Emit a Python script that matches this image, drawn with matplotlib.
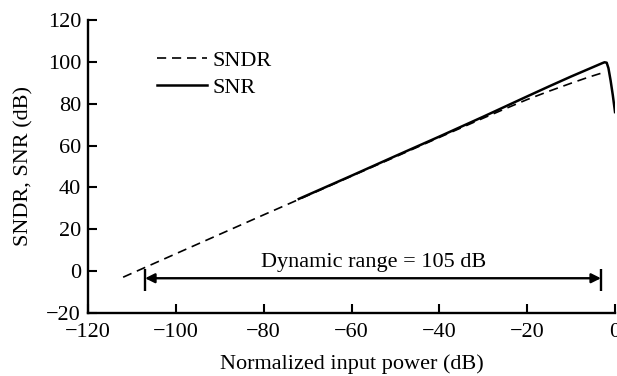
import matplotlib
matplotlib.use("Agg")
import matplotlib.pyplot as plt

plt.rcParams['font.family'] = ['Liberation Serif', 'DejaVu Serif']
plt.rcParams['mathtext.fontset'] = 'stix'

# Data
sndr_x = [-112, -100, -90, -80, -70, -60, -50, -40, -30, -25, -20, -15, -10, -6, -2.2]
sndr_y = [-2.9, 8.3, 17.6, 26.9, 36.1, 45.4, 54.6, 63.9, 73.1, 77.6, 82.0, 86.0, 89.8, 92.7, 95.2]

snr_x = [-72, -60, -50, -40, -30, -20, -15, -10, -5, -3, -2.4, -1.9, -1.5, -1.0, -0.5, 0]
snr_y = [34.5, 45.6, 55.0, 64.3, 73.8, 83.5, 88.3, 93.0, 97.5, 99.3, 99.8, 99.6, 97, 91, 84, 76]

dr_start, dr_end, dr_level = -107, -3.2, -3.4
dr_bar_top, dr_bar_bottom = 1.0, -9.6
dr_label = "Dynamic range = 105 dB"
dr_label_x, dr_label_y = -55.0, 2.2

xticks = [-120, -100, -80, -60, -40, -20, 0]
yticks = [-20, 0, 20, 40, 60, 80, 100, 120]

FS = 16

fig = plt.figure(figsize=(6.17, 3.76), dpi=100)
ax = fig.add_axes([0.1426, 0.1676, 0.8542, 0.7792])

ax.plot(sndr_x, sndr_y, color='black', lw=1.2, ls=(0, (5.5, 3.5)), label='SNDR')
ax.plot(snr_x, snr_y, color='black', lw=1.8, ls='-', label='SNR')

ax.vlines([dr_start, dr_end], dr_bar_bottom, dr_bar_top, color='black', lw=1.7)
ax.annotate('', xy=(dr_end, dr_level), xytext=(dr_start, dr_level),
            arrowprops=dict(arrowstyle='<|-|>', color='black', lw=1.7,
                            mutation_scale=14, shrinkA=0, shrinkB=0))
ax.text(dr_label_x, dr_label_y, dr_label, ha='center', va='baseline', fontsize=FS)

ax.set_xlim(-120, 0)
ax.set_ylim(-20, 120)
ax.set_xticks(xticks)
ax.set_yticks(yticks)
ax.set_xticklabels(['\u2212' + str(-t) if t < 0 else str(t) for t in xticks])
ax.set_yticklabels(['\u2212' + str(-t) if t < 0 else str(t) for t in yticks])
ax.tick_params(direction='in', length=6.5, width=1.5, labelsize=FS)
ax.tick_params(axis='x', pad=7)
ax.tick_params(axis='y', pad=5)
for s in ['top', 'right']:
    ax.spines[s].set_visible(False)
for s in ['left', 'bottom']:
    ax.spines[s].set_linewidth(1.7)

ax.set_xlabel('Normalized input power (dB)', fontsize=FS, labelpad=9)
ax.set_ylabel('SNDR, SNR (dB)', fontsize=FS, labelpad=9)

ax.legend(loc='upper left', bbox_to_anchor=(0.093, 0.965), frameon=False, fontsize=FS,
          handlelength=2.25, handletextpad=0.27, labelspacing=0.3)

fig.savefig('out.png', dpi=100)
